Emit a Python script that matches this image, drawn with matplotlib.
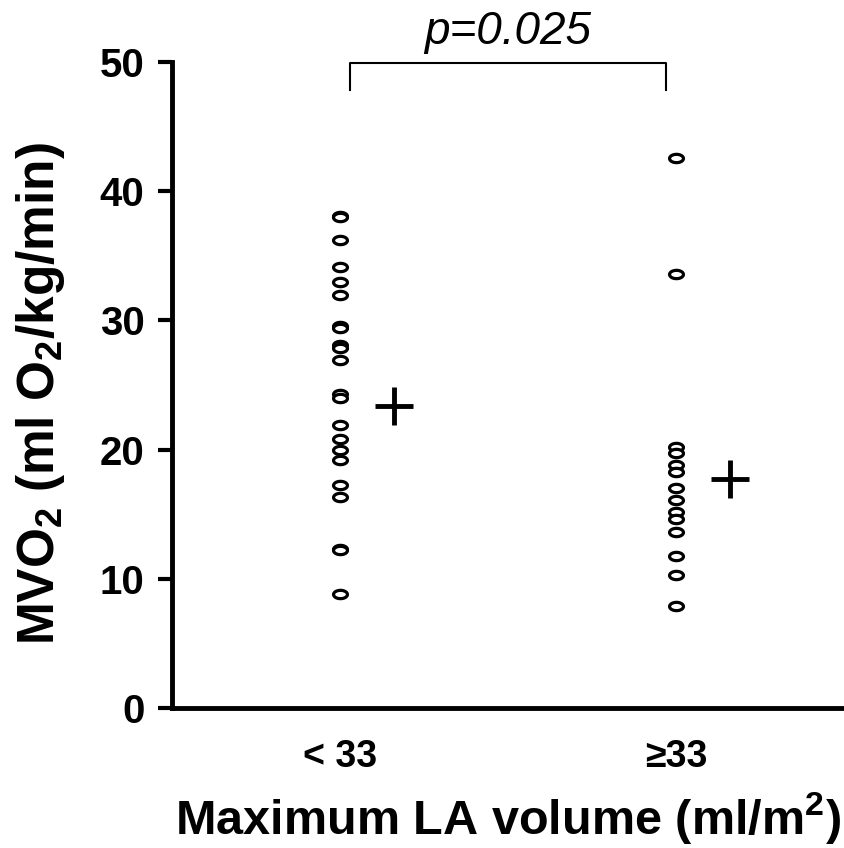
import numpy as np
import matplotlib
matplotlib.use("Agg")
import matplotlib.pyplot as plt
from matplotlib.path import Path

plt.rcParams['font.family'] = ['Liberation Sans', 'DejaVu Sans']
plt.rcParams['mathtext.default'] = 'regular'

categories = ["< 33", "\u226533"]
group_low = [38.1, 38.0, 36.2, 34.1, 33.0, 32.0, 29.6, 29.4, 28.1, 27.9, 26.9,
             24.3, 24.0, 21.9, 20.8, 20.0, 19.2, 17.3, 16.3, 12.3, 12.2, 8.8]
group_high = [42.6, 33.6, 20.2, 19.7, 18.8, 18.3, 17.0, 16.1, 15.2, 14.6,
              13.6, 11.8, 10.3, 7.9]
means = [23.4, 17.7]
yticks = [0, 10, 20, 30, 40, 50]
p_text = "p=0.025"

fig = plt.figure(figsize=(8.44, 8.48), dpi=100)
ax = fig.add_axes([0.204, 0.165, 0.796, 0.762])

t = np.linspace(0, 2 * np.pi, 40)
ell = Path(np.column_stack([np.cos(t), 0.6 * np.sin(t)]), closed=True)

for i, vals in enumerate([group_low, group_high]):
    ax.plot([i] * len(vals), vals, linestyle='none', marker=ell, markersize=10,
            markerfacecolor='white', markeredgecolor='black', markeredgewidth=2.3,
            clip_on=False)

offs = 0.16
ax.plot([0 + offs, 1 + offs], means, linestyle='none', marker='+', markersize=28,
        markeredgewidth=3.5, color='black', clip_on=False)

ax.set_xlim(-0.5, 1.5)
ax.set_ylim(0, 50)
ax.set_yticks(yticks)
ax.set_xticks([0, 1])
ax.set_xticklabels(categories)
for sp in ['top', 'right']:
    ax.spines[sp].set_visible(False)
ax.spines['left'].set_linewidth(3.5)
ax.spines['bottom'].set_linewidth(3.5)
ax.tick_params(axis='y', length=10, width=3, pad=10, labelsize=29)
ax.tick_params(axis='x', length=0, pad=22, labelsize=27)
for lab in ax.get_xticklabels() + ax.get_yticklabels():
    lab.set_fontweight('bold')

ax.set_ylabel("MVO$_2$ (ml O$_2$/kg/min)", fontsize=37, fontweight='bold')
ax.yaxis.label.set_va('center')
ax.yaxis.set_label_coords(-0.196, 0.486)
ax.set_xlabel("Maximum LA volume (ml/m$^2$)", fontsize=35, fontweight='bold', labelpad=11)

# significance bracket
bx0, bx1 = 0.03, 0.97
ax.plot([bx0, bx0, bx1, bx1], [47.8, 49.9, 49.9, 47.8], color='black', lw=1.5,
        clip_on=False)
ax.text(0.5, 50.6, p_text, ha='center', va='bottom', fontsize=33, style='italic')

fig.savefig("out.png", dpi=100)
